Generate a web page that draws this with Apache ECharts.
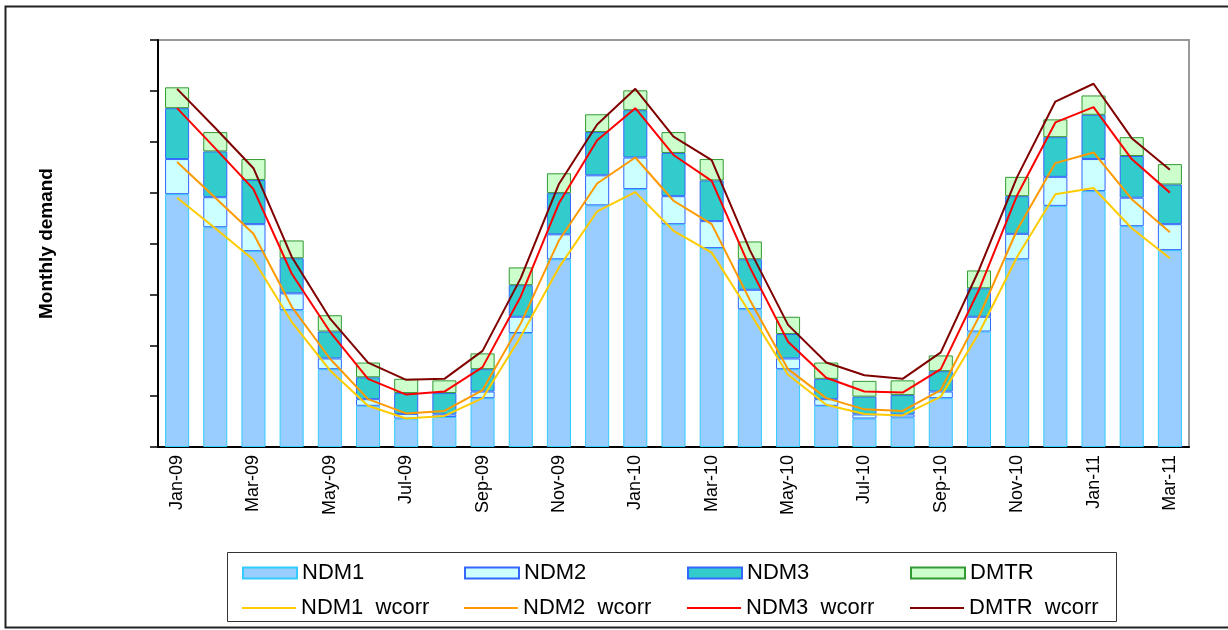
<!DOCTYPE html>
<html>
<head>
<meta charset="utf-8">
<script src="https://cdn.jsdelivr.net/npm/echarts@6/dist/echarts.min.js"></script>
<style>
	html, body { margin: 0; padding: 0; background: #fff; }
	#chart { width: 1228px; height: 630px; }
</style>
</head>
<body>
<div id="chart"></div>
<script>
var months = ['Jan-09', 'Feb-09', 'Mar-09', 'Apr-09', 'May-09', 'Jun-09', 'Jul-09', 'Aug-09', 'Sep-09', 'Oct-09', 'Nov-09', 'Dec-09',
	'Jan-10', 'Feb-10', 'Mar-10', 'Apr-10', 'May-10', 'Jun-10', 'Jul-10', 'Aug-10', 'Sep-10', 'Oct-10', 'Nov-10', 'Dec-10',
	'Jan-11', 'Feb-11', 'Mar-11'];

// stacked bar segments
var ndm1 = [4.97, 4.32, 3.85, 2.69, 1.53, 0.81, 0.56, 0.59, 0.96, 2.24, 3.69, 4.75, 5.07, 4.38, 3.91, 2.71, 1.53, 0.81, 0.56, 0.58, 0.96, 2.27, 3.69, 4.74, 5.03, 4.34, 3.87];
var ndm2 = [0.69, 0.59, 0.53, 0.33, 0.21, 0.13, 0.09, 0.05, 0.13, 0.32, 0.49, 0.59, 0.62, 0.55, 0.53, 0.38, 0.21, 0.13, 0.08, 0.06, 0.13, 0.29, 0.50, 0.57, 0.63, 0.56, 0.51];
var ndm3 = [1.00, 0.90, 0.87, 0.69, 0.53, 0.43, 0.41, 0.42, 0.44, 0.62, 0.81, 0.85, 0.93, 0.85, 0.80, 0.60, 0.48, 0.40, 0.35, 0.38, 0.40, 0.56, 0.74, 0.78, 0.87, 0.82, 0.78];
var dmtr = [0.41, 0.38, 0.41, 0.35, 0.32, 0.29, 0.28, 0.25, 0.31, 0.35, 0.39, 0.35, 0.39, 0.41, 0.42, 0.35, 0.34, 0.32, 0.31, 0.29, 0.31, 0.35, 0.38, 0.35, 0.38, 0.37, 0.40];

// weather corrected lines (cumulative levels)
var ndm1W = [4.90, 4.30, 3.68, 2.46, 1.51, 0.81, 0.56, 0.61, 0.96, 2.17, 3.53, 4.63, 5.01, 4.25, 3.82, 2.64, 1.42, 0.83, 0.65, 0.62, 0.99, 2.24, 3.74, 4.97, 5.09, 4.30, 3.71];
var ndm2W = [5.60, 4.90, 4.19, 2.76, 1.74, 0.94, 0.66, 0.71, 1.12, 2.43, 4.06, 5.18, 5.69, 4.84, 4.38, 2.89, 1.53, 0.96, 0.74, 0.71, 1.12, 2.56, 4.27, 5.58, 5.79, 4.87, 4.22];
var ndm3W = [6.66, 5.87, 5.07, 3.41, 2.27, 1.34, 1.03, 1.09, 1.57, 2.96, 4.79, 6.03, 6.66, 5.74, 5.23, 3.53, 2.07, 1.36, 1.09, 1.07, 1.53, 3.09, 4.95, 6.38, 6.68, 5.66, 5.00];
var dmtrW = [7.04, 6.27, 5.48, 3.74, 2.53, 1.66, 1.32, 1.34, 1.89, 3.32, 5.17, 6.34, 7.04, 6.10, 5.64, 3.87, 2.40, 1.66, 1.41, 1.34, 1.86, 3.48, 5.31, 6.79, 7.14, 6.07, 5.45];

var barNames = ['NDM1', 'NDM2', 'NDM3', 'DMTR'];
var lineNames = ['NDM1  wcorr', 'NDM2  wcorr', 'NDM3  wcorr', 'DMTR  wcorr'];

var barData = [ndm1, ndm2, ndm3, dmtr];
var lineData = [ndm1W, ndm2W, ndm3W, dmtrW];
var barFill = ['#99ccff', '#ccffff', '#33cccc', '#ccffcc'];
var barBorder = ['#33ccff', '#3366ff', '#3366ff', '#339933'];
var lineColor = ['#ffcc00', '#ff9900', '#ff0000', '#800000'];

var fontName = 'Liberation Sans, Arial, sans-serif';

function getSeries() {
	var s = [];
	for(var i = 0; i < barData.length; i++) {
		s.push({
			name: barNames[i],
			type: 'bar',
			stack: 'demand',
			barCategoryGap: '37%',
			data: barData[i],
			itemStyle: {
				color: barFill[i],
				borderColor: barBorder[i],
				borderWidth: 1
			},
			z: 2
		});
	}
	for(var j = 0; j < lineData.length; j++) {
		s.push({
			name: lineNames[j],
			type: 'line',
			data: lineData[j],
			symbol: 'none',
			lineStyle: {
				color: lineColor[j],
				width: 2
			},
			itemStyle: {
				color: lineColor[j]
			},
			z: 3
		});
	}
	return s;
}

// one legend per item, laid out in a 4 x 2 grid
function getLegends() {
	var legends = [];
	var colX = [237, 459, 682, 905];
	var rowY = [557, 592];
	var names = [barNames, lineNames];
	for(var r = 0; r < 2; r++) {
		for(var c = 0; c < 4; c++) {
			legends.push({
				left: colX[c],
				top: rowY[r],
				data: [{
					name: names[r][c],
					icon: 'rect'
				}],
				itemWidth: 54,
				itemHeight: r == 0 ? 11 : 2,
				itemGap: 10,
				textStyle: {
					fontFamily: fontName,
					fontSize: 22,
					color: '#000',
					padding: [0, 0, 0, 0]
				},
				selectedMode: false
			});
		}
	}
	return legends;
}

var chart = echarts.init(document.getElementById('chart'));
chart.setOption({
	animation: false,
	backgroundColor: '#fff',
	grid: {
		left: 158,
		right: 39,
		top: 40,
		bottom: 183,
		show: true,
		borderColor: '#999999',
		borderWidth: 2
	},
	legend: getLegends(),
	xAxis: [{
		type: 'category',
		data: months,
		boundaryGap: true,
		axisLine: {
			lineStyle: { color: '#000', width: 2 }
		},
		axisTick: {
			interval: 1,
			length: 6,
			lineStyle: { color: '#000', width: 1.5 }
		},
		axisLabel: {
			interval: 1,
			rotate: 90,
			margin: 8,
			fontFamily: fontName,
			fontSize: 18,
			color: '#000'
		}
	}],
	yAxis: [{
		type: 'value',
		min: 0,
		max: 8,
		interval: 1,
		name: 'Monthly demand',
		nameLocation: 'middle',
		nameGap: 102,
		nameTextStyle: {
			fontFamily: fontName,
			fontSize: 19,
			fontWeight: 'bold',
			color: '#000'
		},
		axisLine: {
			show: true,
			lineStyle: { color: '#000', width: 2 }
		},
		axisTick: {
			show: true,
			length: 8,
			lineStyle: { color: '#000', width: 1.5 }
		},
		axisLabel: { show: false },
		splitLine: { show: false }
	}],
	graphic: [{
		type: 'rect',
		shape: { x: 5.5, y: 6.5, width: 1300, height: 621 },
		style: { fill: null, stroke: '#222', lineWidth: 2 },
		silent: true
	}, {
		type: 'rect',
		shape: { x: 227.5, y: 552.5, width: 889, height: 69 },
		style: { fill: null, stroke: '#333', lineWidth: 1 },
		silent: true
	}],
	series: getSeries()
});
</script>
</body>
</html>
